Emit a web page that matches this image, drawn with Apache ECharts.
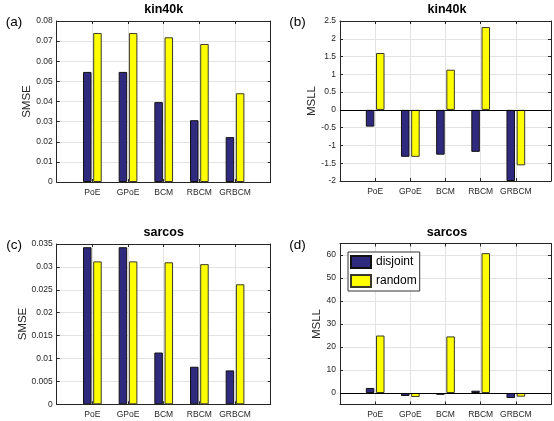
<!DOCTYPE html>
<html>
<head>
<meta charset="utf-8">
<script src="https://cdn.jsdelivr.net/npm/echarts@6/dist/echarts.min.js"></script>
<style>
html,body{margin:0;padding:0;background:#fff;}
#chart{width:554px;height:421px;}
</style>
</head>
<body>
<div id="chart"></div>
<script>
// ---- data ----
const methods = ['PoE', 'GPoE', 'BCM', 'RBCM', 'GRBCM'];
const seriesNames = ['disjoint', 'random'];
const kinSmseDisjoint = [0.0547, 0.0547, 0.0397, 0.0307, 0.0223];
const kinSmseRandom   = [0.0740, 0.0740, 0.0719, 0.0686, 0.0441];
const kinMsllDisjoint = [-0.47, -1.32, -1.26, -1.18, -2.0];
const kinMsllRandom   = [1.60, -1.32, 1.13, 2.33, -1.56];
const sarSmseDisjoint = [0.0343, 0.0343, 0.0113, 0.0082, 0.0074];
const sarSmseRandom   = [0.0312, 0.0312, 0.0310, 0.0306, 0.0262];
const sarMsllDisjoint = [2.2, -1.3, -0.8, 1.0, -2.2];
const sarMsllRandom   = [25.0, -1.75, 24.6, 60.8, -1.6];
const sarMsllTicks    = [0, 10, 20, 30, 40, 50, 60];

// ---- styling ----
const FONT = 'Liberation Sans, Arial, sans-serif';
const DARK = '#302a7f';
const YEL = '#ffff00';
const AX = '#262626';
const GRIDC = '#e3e3e3';

const cats = [''].concat(methods, ['']);
const pad = a => ['-'].concat(a, ['-']);

const panels = [
  {grid:{left:56.7, width:214, top:21, height:161}, y:{min:0, max:0.08, interval:0.01}, d:kinSmseDisjoint, r:kinSmseRandom, zero:false},
  {grid:{left:340, width:214, top:21, height:160}, y:{min:-2, max:2.5, interval:0.5}, d:kinMsllDisjoint, r:kinMsllRandom, zero:true},
  {grid:{left:56.7, width:214, top:244, height:160.3}, y:{min:0, max:0.035, interval:0.005}, d:sarSmseDisjoint, r:sarSmseRandom, zero:false},
  {grid:{left:340, width:214, top:243.5, height:161}, y:{min:-5, max:65, custom:sarMsllTicks}, d:sarMsllDisjoint, r:sarMsllRandom, zero:true, legend:true}
];

const grid = [], xAxis = [], yAxis = [], series = [];
panels.forEach((p, i) => {
  grid.push(Object.assign({containLabel:false}, p.grid));
  xAxis.push({
    type:'category', data:cats, gridIndex:i, boundaryGap:false, position:'bottom',
    axisLine:{onZero:false, lineStyle:{color:AX, width:1}},
    axisTick:{show:true, inside:true, length:3, interval:0, lineStyle:{color:AX}},
    axisLabel:{interval:0, fontFamily:FONT, fontSize:8.5, color:AX, margin:6},
    splitLine:{show:true, interval:0, lineStyle:{color:GRIDC, width:1}}
  });
  xAxis.push({
    type:'category', data:cats, gridIndex:i, boundaryGap:false, position:'top',
    axisLine:{onZero:false, lineStyle:{color:AX, width:1}},
    axisTick:{show:true, inside:true, length:3, interval:0, lineStyle:{color:AX}},
    axisLabel:{show:false}, splitLine:{show:false}
  });
  const yBase = {type:'value', gridIndex:i, min:p.y.min, max:p.y.max};
  if (p.y.interval) yBase.interval = p.y.interval;
  const tickCustom = p.y.custom ? {customValues:p.y.custom} : {};
  yAxis.push(Object.assign({}, yBase, {
    position:'left',
    axisLine:{show:true, onZero:false, lineStyle:{color:AX, width:1}},
    axisTick:Object.assign({show:true, inside:true, length:3, lineStyle:{color:AX}}, tickCustom),
    axisLabel:Object.assign({fontFamily:FONT, fontSize:8.5, color:AX, margin:4}, tickCustom),
    splitLine:{show:true, lineStyle:{color:GRIDC, width:1}}
  }));
  yAxis.push(Object.assign({}, yBase, {
    position:'right',
    axisLine:{show:true, onZero:false, lineStyle:{color:AX, width:1}},
    axisTick:Object.assign({show:true, inside:true, length:3, lineStyle:{color:AX}}, tickCustom),
    axisLabel:{show:false}, splitLine:{show:false}
  }));
  const common = {type:'bar', xAxisIndex:2*i, yAxisIndex:2*i, barWidth:8.5, barGap:'20%', animation:false};
  const s1 = Object.assign({}, common, {name:seriesNames[0], data:pad(p.d), itemStyle:{color:DARK, borderColor:'#111', borderWidth:1}});
  const s2 = Object.assign({}, common, {name:seriesNames[1], data:pad(p.r), itemStyle:{color:YEL, borderColor:'#3a3a2a', borderWidth:1}});
  if (p.zero) {
    s2.markLine = {silent:true, symbol:['none','none'], label:{show:false}, animation:false,
                   lineStyle:{color:'#000', type:'solid', width:1}, data:[{yAxis:0}]};
  }
  series.push(s1, s2);
});

const txt = (text, x, y, opts) => ({type:'text', x:x, y:y, rotation:(opts&&opts.rot)||0,
  style:Object.assign({text:text, fontFamily:FONT, fontSize:12, fill:'#000', textAlign:'center', textVerticalAlign:'middle'}, (opts&&opts.style)||{})});

const option = {
  backgroundColor:'#fff',
  animation:false,
  grid:grid, xAxis:xAxis, yAxis:yAxis, series:series,
  legend:{
    data:seriesNames, orient:'vertical', left:348, top:252,
    itemWidth:20, itemHeight:12, itemGap:5, padding:[3,3,3,2],
    borderColor:'#333', borderWidth:1, backgroundColor:'#fff',
    icon:'rect',
    textStyle:{fontFamily:FONT, fontSize:12, color:'#000'}
  },
  graphic:[
    txt('kin40k', 163.7, 10, {style:{fontWeight:'bold', fontSize:12.5}}),
    txt('kin40k', 447, 10, {style:{fontWeight:'bold', fontSize:12.5}}),
    txt('sarcos', 163.7, 233, {style:{fontWeight:'bold', fontSize:12.5}}),
    txt('sarcos', 447, 233, {style:{fontWeight:'bold', fontSize:12.5}}),
    txt('(a)', 14, 22, {style:{fontSize:13.5}}),
    txt('(b)', 297.5, 22, {style:{fontSize:13.5}}),
    txt('(c)', 14, 245, {style:{fontSize:13.5}}),
    txt('(d)', 297.5, 245, {style:{fontSize:13.5}}),
    txt('SMSE', 26.7, 101.5, {rot:Math.PI/2, style:{fontSize:11.5, fill:AX}}),
    txt('MSLL', 312, 101, {rot:Math.PI/2, style:{fontSize:11.5, fill:AX}}),
    txt('SMSE', 23.3, 324, {rot:Math.PI/2, style:{fontSize:11.5, fill:AX}}),
    txt('MSLL', 317, 324, {rot:Math.PI/2, style:{fontSize:11.5, fill:AX}})
  ]
};

const chart = echarts.init(document.getElementById('chart'), null, {renderer:'canvas'});
chart.setOption(option);
</script>
</body>
</html>
